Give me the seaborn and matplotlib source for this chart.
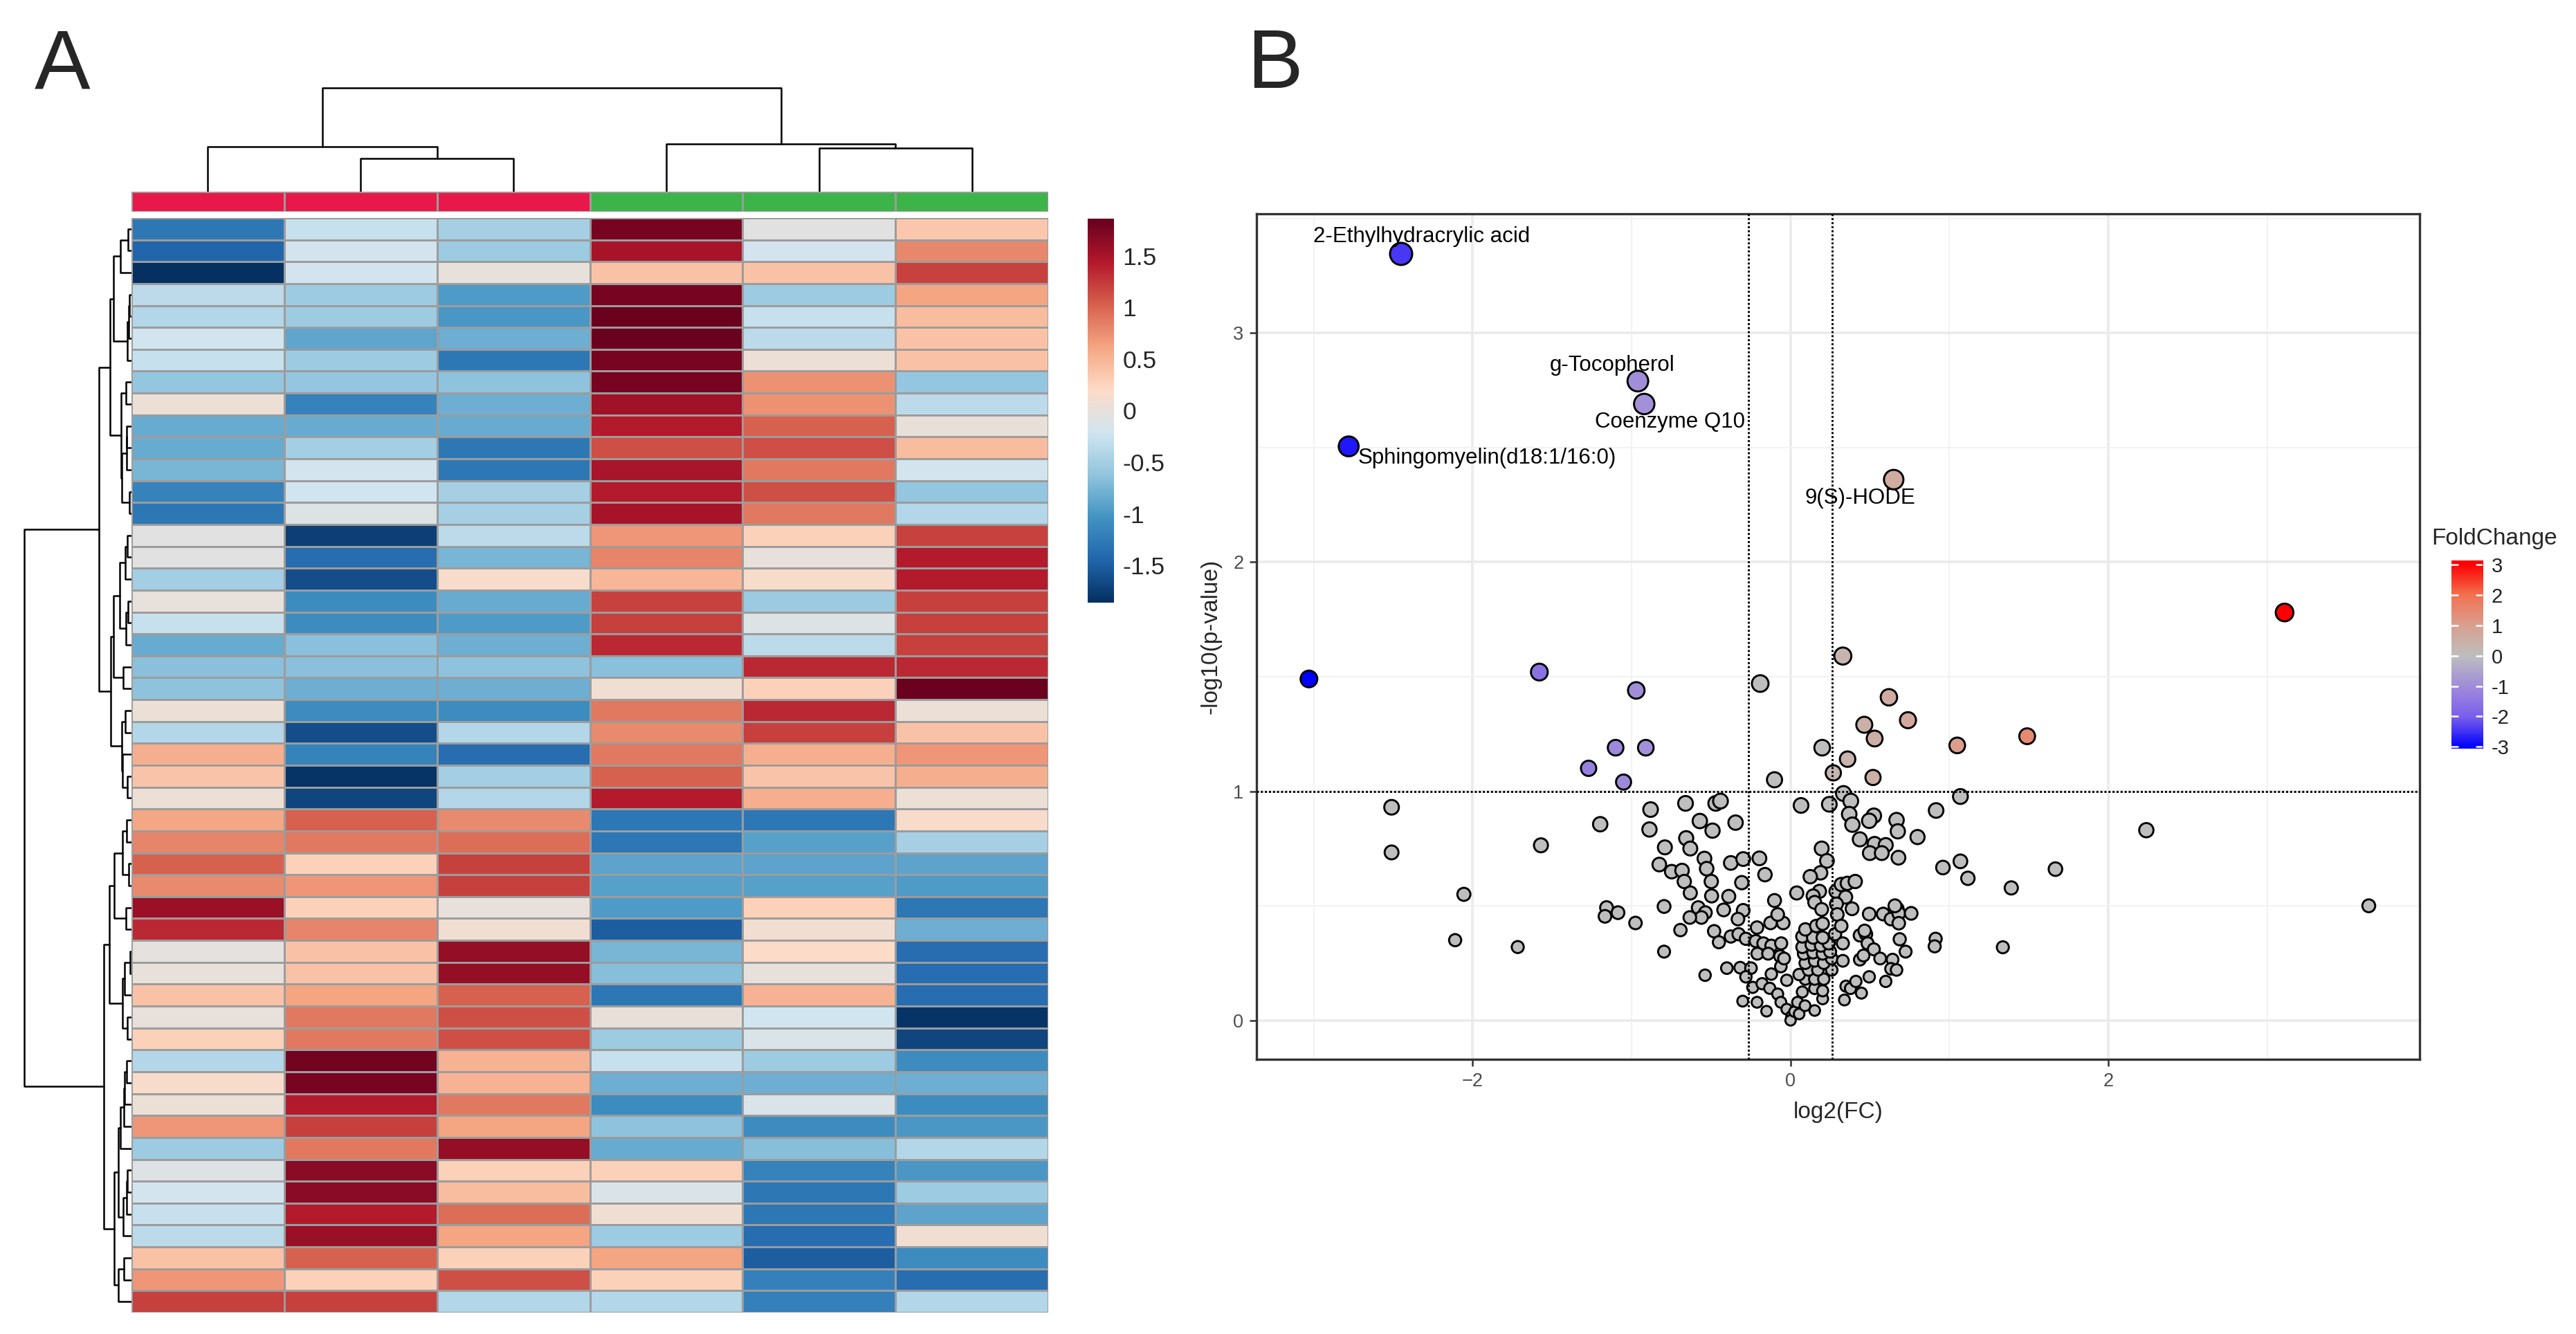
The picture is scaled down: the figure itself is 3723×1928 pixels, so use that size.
import numpy as np
import pandas as pd
import matplotlib
matplotlib.use("Agg")
import matplotlib.pyplot as plt
import seaborn as sns
from matplotlib.colors import LinearSegmentedColormap, ListedColormap, Normalize

# =================== Heatmap data (z-scores, 50 metabolites x 6 samples) ===================
samples = ["S1", "S2", "S3", "S4", "S5", "S6"]
groups = [0, 0, 0, 1, 1, 1]
group_colors = ["#E8194A", "#3CB44A"]

z_scores = [
    [-1.28, -0.27, -0.49, 1.76, -0.05, 0.35],
    [-1.45, -0.18, -0.55, 1.50, -0.18, 0.79],
    [-1.85, -0.18, 0.00, 0.40, 0.40, 1.20],
    [-0.34, -0.55, -0.96, 1.76, -0.55, 0.62],
    [-0.40, -0.55, -1.00, 1.84, -0.27, 0.45],
    [-0.21, -0.88, -0.80, 1.84, -0.34, 0.40],
    [-0.27, -0.55, -1.28, 1.76, 0.05, 0.40],
    [-0.61, -0.61, -0.63, 1.76, 0.73, -0.61],
    [0.05, -1.19, -0.80, 1.55, 0.73, -0.34],
    [-0.84, -0.84, -0.84, 1.43, 1.03, 0.02],
    [-0.84, -0.50, -1.28, 1.13, 1.13, 0.44],
    [-0.75, -0.18, -1.28, 1.49, 0.88, -0.18],
    [-1.19, -0.21, -0.48, 1.43, 1.13, -0.61],
    [-1.28, -0.10, -0.48, 1.50, 0.88, -0.40],
    [-0.05, -1.73, -0.34, 0.71, 0.29, 1.20],
    [-0.05, -1.38, -0.75, 0.81, 0.00, 1.43],
    [-0.50, -1.63, 0.15, 0.48, 0.15, 1.43],
    [0.00, -1.10, -0.83, 1.20, -0.56, 1.22],
    [-0.27, -1.10, -0.96, 1.22, -0.10, 1.22],
    [-0.83, -0.66, -0.80, 1.35, -0.34, 1.22],
    [-0.66, -0.66, -0.63, -0.66, 1.35, 1.35],
    [-0.63, -0.80, -0.80, 0.10, 0.29, 1.84],
    [0.05, -1.10, -1.10, 0.88, 1.35, 0.05],
    [-0.40, -1.63, -0.40, 0.78, 1.22, 0.40],
    [0.54, -1.19, -1.38, 0.88, 0.54, 0.70],
    [0.38, -1.82, -0.50, 1.03, 0.38, 0.54],
    [0.05, -1.70, -0.40, 1.43, 0.54, 0.05],
    [0.60, 1.03, 0.78, -1.28, -1.28, 0.15],
    [0.81, 0.88, 0.95, -1.28, -0.93, -0.48],
    [1.03, 0.29, 1.22, -0.89, -0.89, -0.89],
    [0.78, 0.70, 1.22, -0.93, -0.93, -0.96],
    [1.58, 0.29, 0.00, -0.96, 0.29, -1.28],
    [1.35, 0.81, 0.10, -1.50, 0.10, -0.80],
    [-0.02, 0.40, 1.60, -0.75, 0.20, -1.38],
    [0.00, 0.40, 1.60, -0.68, 0.00, -1.38],
    [0.40, 0.62, 1.03, -1.28, 0.52, -1.38],
    [0.00, 0.88, 1.13, 0.02, -0.21, -1.82],
    [0.29, 0.88, 1.13, -0.55, -0.13, -1.70],
    [-0.40, 1.79, 0.52, -0.27, -0.55, -1.10],
    [0.15, 1.76, 0.52, -0.80, -0.80, -0.80],
    [0.05, 1.43, 0.88, -1.10, -0.13, -1.10],
    [0.71, 1.22, 0.62, -0.63, -1.10, -1.00],
    [-0.55, 0.88, 1.60, -0.84, -0.68, -0.40],
    [-0.10, 1.67, 0.29, 0.29, -1.19, -1.00],
    [-0.18, 1.67, 0.45, -0.13, -1.28, -0.55],
    [-0.27, 1.43, 0.95, 0.10, -1.28, -0.89],
    [-0.34, 1.58, 0.62, -0.55, -1.38, 0.10],
    [0.40, 1.03, 0.29, 0.62, -1.50, -1.10],
    [0.71, 0.29, 1.13, 0.29, -1.20, -1.38],
    [1.22, 1.22, -0.40, -0.40, -1.20, -0.40],
]
cbar_ticks = [1.5, 1, 0.5, 0, -0.5, -1, -1.5]
cbar_labels = ["1.5", "1", "0.5", "0", "-0.5", "-1", "-1.5"]

# =================== Volcano data ===================
log2fc = [
    -2.45, -0.96, -0.92, -2.78, 0.65,
    3.11, -3.03, -1.58, -0.97, -0.19, 0.33, 0.62, 0.74, 0.465, 0.53,
    1.05, 1.49, 0.20, 0.36, 0.27, 0.52, -0.10, -1.27, -1.10, -0.91,
    -1.05, 0.334, 1.07,
    -0.66, -0.47, -0.44, -0.88, -1.197, -0.887, -0.57, -0.49, -0.345, 0.067,
    0.245, 0.38, 0.37, 0.39, 0.525, 0.496, 0.668, 0.676, 0.917, 0.80,
    0.437, 0.53, 0.60, 0.50, 0.575, 0.68, 0.96, 1.07, 1.117, 1.39,
    0.197, 0.23, 0.19, 0.125, -0.79, -0.656, -0.63, -0.825, -0.747, -0.682,
    -0.541, -0.527, -0.375, -0.297, -0.195, -0.16, -0.306, -0.498, -0.668, -0.63,
    -0.496, -0.388, 0.04, -0.10, 0.183, 0.143, 0.153, 0.197, 0.287, 0.32,
    0.358, 0.408, 0.348, 0.29, 0.388, 0.295, -1.157, -1.167, -1.085, -0.975,
    -0.795, -0.692, -0.795, -0.58, -0.535, -0.56, -0.633, -0.42, -0.297, -0.33,
    -0.48, -0.45, -0.375, -0.326, -0.28, -0.21, -0.125, -0.045, -0.08, -0.218,
    -0.17, -0.12, -0.058, -0.208, -0.14, -0.065, -0.06, -0.04, -0.316, -0.40,
    -0.248, -0.28, -0.537, -0.12, -0.023, -0.237, -0.178, -0.13, -0.08, -0.30,
    -0.21, -0.15, -0.06, -0.023, 0.007, 0.001, 0.026, 0.055, 0.045, 0.092,
    0.153, 0.203, 0.153, 0.203, 0.075, 0.094, 0.153, 0.21, 0.055, 0.114,
    0.173, 0.26, 0.094, 0.153, 0.21, 0.26, 0.084, 0.143, 0.203, 0.25,
    0.075, 0.133, 0.192, 0.241, 0.075, 0.143, 0.203, 0.094, 0.163, 0.203,
    0.281, 0.32, 0.33, 0.33, 0.35, 0.378, 0.34, 0.412, 0.447, 0.496,
    0.60, 0.437, 0.476, 0.467, 0.486, 0.525, 0.437, 0.46, 0.565, 0.643,
    0.633, 0.668, 0.725, 0.688, 0.496, 0.584, 0.633, 0.672, 0.682, 0.682,
    0.76, 0.658, 0.914, 0.908, 1.337,
    -2.51, -2.51, -2.055, -2.11, -1.716, -1.57,
    2.24, 1.668, 3.64,
]
neglog10p = [
    3.345, 2.79, 2.69, 2.505, 2.36,
    1.78, 1.49, 1.52, 1.44, 1.47, 1.59, 1.41, 1.31, 1.29, 1.23,
    1.20, 1.24, 1.19, 1.14, 1.08, 1.06, 1.05, 1.10, 1.19, 1.19,
    1.04, 0.99, 0.977,
    0.947, 0.947, 0.957, 0.92, 0.856, 0.833, 0.87, 0.828, 0.863, 0.938,
    0.943, 0.957, 0.90, 0.854, 0.893, 0.871, 0.874, 0.825, 0.916, 0.80,
    0.79, 0.77, 0.765, 0.73, 0.73, 0.71, 0.667, 0.694, 0.62, 0.578,
    0.75, 0.696, 0.644, 0.627, 0.755, 0.795, 0.75, 0.68, 0.649, 0.654,
    0.706, 0.662, 0.687, 0.704, 0.707, 0.636, 0.601, 0.606, 0.606, 0.556,
    0.543, 0.541, 0.556, 0.523, 0.563, 0.543, 0.515, 0.484, 0.563, 0.593,
    0.598, 0.606, 0.538, 0.508, 0.487, 0.462, 0.492, 0.454, 0.47, 0.425,
    0.497, 0.394, 0.30, 0.492, 0.47, 0.449, 0.449, 0.482, 0.48, 0.442,
    0.389, 0.341, 0.366, 0.376, 0.356, 0.405, 0.425, 0.425, 0.462, 0.346,
    0.336, 0.326, 0.336, 0.291, 0.291, 0.28, 0.235, 0.27, 0.23, 0.228,
    0.228, 0.19, 0.197, 0.202, 0.175, 0.144, 0.16, 0.14, 0.115, 0.084,
    0.079, 0.04, 0.079, 0.049, 0.018, 0.0, 0.038, 0.028, 0.079, 0.064,
    0.043, 0.094, 0.139, 0.129, 0.124, 0.18, 0.18, 0.18, 0.2, 0.22,
    0.22, 0.22, 0.25, 0.26, 0.25, 0.27, 0.291, 0.296, 0.291, 0.30,
    0.32, 0.33, 0.326, 0.336, 0.366, 0.361, 0.361, 0.397, 0.412, 0.422,
    0.376, 0.412, 0.336, 0.26, 0.149, 0.139, 0.089, 0.17, 0.119, 0.19,
    0.17, 0.371, 0.376, 0.391, 0.336, 0.31, 0.265, 0.283, 0.27, 0.265,
    0.225, 0.22, 0.30, 0.354, 0.464, 0.464, 0.442, 0.487, 0.467, 0.424,
    0.467, 0.50, 0.356, 0.323, 0.319,
    0.93, 0.733, 0.55, 0.35, 0.32, 0.764,
    0.83, 0.66, 0.50,
]
label_names = ["2-Ethylhydracrylic acid", "g-Tocopherol", "Coenzyme Q10",
               "Sphingomyelin(d18:1/16:0)", "9(S)-HODE"]
label_x = [-2.32, -1.12, -0.76, -1.91, 0.44]
label_y = [3.42, 2.86, 2.61, 2.455, 2.28]
fc_cutoff = np.log2(1.2)
p_cutoff = 1.0


# =================== Dendrogram (Ward, keeps the displayed order) ===================
def ward_links(X):
    grupos = [(np.array([i]), i + 0.5, 0.0) for i in range(len(X))]
    links = []
    while len(grupos) > 1:
        best = None
        for j in range(len(grupos) - 1):
            a, b = grupos[j], grupos[j + 1]
            na, nb = len(a[0]), len(b[0])
            d = np.sqrt(2 * na * nb / (na + nb)) * np.linalg.norm(X[a[0]].mean(0) - X[b[0]].mean(0))
            if best is None or d < best[0]:
                best = (d, j)
        d, j = best
        a, b = grupos[j], grupos[j + 1]
        h = max(d, a[2], b[2])
        links.append((a[1], a[2], b[1], b[2], h))
        grupos[j:j + 2] = [(np.concatenate([a[0], b[0]]), (a[1] + b[1]) / 2, h)]
    return links


sns.set_theme(style="white")
plt.rcParams["font.family"] = ["Liberation Sans", "DejaVu Sans"]

W, H = 3723, 1928
fig = plt.figure(figsize=(W / 300, H / 300), dpi=300)


def px_axes(x0, y0, x1, y1):
    return fig.add_axes([x0 / W, 1 - y1 / H, (x1 - x0) / W, (y1 - y0) / H])


# =================== Panel A: heatmap ===================
mat = np.array(z_scores)
df = pd.DataFrame(mat, columns=samples)
rdbu = ["#053061", "#2166AC", "#4393C3", "#92C5DE", "#D1E5F0",
        "#FDDBC7", "#F4A582", "#D6604D", "#B2182B", "#67001F"]
heat_cmap = LinearSegmentedColormap.from_list("rdbu10", rdbu)

ax_hm = px_axes(190, 315, 1515, 1897)
ax_cb = px_axes(1572, 316, 1610, 871)
sns.heatmap(df, ax=ax_hm, cmap=heat_cmap, vmin=-1.86, vmax=1.86,
            linewidths=0.6, linecolor="#9c9c9c", cbar_ax=ax_cb,
            xticklabels=False, yticklabels=False, cbar_kws={"ticks": cbar_ticks})
cb = ax_hm.collections[0].colorbar
cb.outline.set_visible(False)
ax_cb.set_yticklabels(cbar_labels)
ax_cb.tick_params(length=0, labelsize=8.5, pad=3)

# annotation bar
ax_an = px_axes(190, 277, 1515, 306)
sns.heatmap(pd.DataFrame([groups], columns=samples), ax=ax_an, cmap=ListedColormap(group_colors),
            vmin=0, vmax=1, cbar=False, linewidths=0.6, linecolor="#9c9c9c",
            xticklabels=False, yticklabels=False)

# column dendrogram
ax_cd = px_axes(190, 123, 1515, 277)
col_links = ward_links(mat.T)
for xa, ha, xb, hb, h in col_links:
    ax_cd.plot([xa, xa, xb, xb], [ha, h, h, hb], color="black", lw=0.6)
ax_cd.set_xlim(0, len(samples))
ax_cd.set_ylim(0, col_links[-1][4] * 1.03)
ax_cd.axis("off")

# row dendrogram
ax_rd = px_axes(33, 315, 190, 1897)
row_links = ward_links(mat)
for ya, ha, yb, hb, h in row_links:
    ax_rd.plot([ha, h, h, hb], [ya, ya, yb, yb], color="black", lw=0.6)
ax_rd.set_ylim(len(mat), 0)
ax_rd.set_xlim(row_links[-1][4] * 1.01, 0)
ax_rd.axis("off")

# =================== Panel B: volcano ===================
volc = pd.DataFrame({"log2FC": log2fc, "p": neglog10p})
sig = (volc["p"] > p_cutoff) & (volc["log2FC"].abs() > fc_cutoff)
fc_cmap = LinearSegmentedColormap.from_list(
    "fc", ["#0000FF", "#7A5EEC", "#A08CDA", "#BEBEBE", "#D9A090", "#F2704F", "#FF0000"])

ax_v = px_axes(1816, 309, 3497, 1531)
size_kw = dict(size="p", sizes=(13, 60), size_norm=(0, 3.4), edgecolor="black",
               linewidth=0.7, legend=False, zorder=2)
sns.scatterplot(data=volc[~sig], x="log2FC", y="p", color="#BEBEBE", ax=ax_v, **size_kw)
sns.scatterplot(data=volc[sig], x="log2FC", y="p", hue="log2FC", palette=fc_cmap,
                hue_norm=(-3.05, 3.05), ax=ax_v, **size_kw)

for v in (-fc_cutoff, fc_cutoff):
    ax_v.axvline(v, color="black", lw=0.7, ls=(0, (1, 1)), zorder=3)
ax_v.axhline(p_cutoff, color="black", lw=0.7, ls=(0, (1, 1)), zorder=3)

for name, tx, ty in zip(label_names, label_x, label_y):
    ax_v.text(tx, ty, name, ha="center", va="center", fontsize=7.5, color="black", zorder=4)

ax_v.set_xlim(-3.36, 3.96)
ax_v.set_ylim(-0.17, 3.52)
ax_v.set_xticks([-2, 0, 2])
ax_v.set_yticks([0, 1, 2, 3])
ax_v.set_xticks([-3, -1, 1, 3], minor=True)
ax_v.set_yticks([0.5, 1.5, 2.5, 3.5], minor=True)
ax_v.grid(True, which="major", color="#EBEBEB", lw=0.9, zorder=0)
ax_v.grid(True, which="minor", color="#F2F2F2", lw=0.45, zorder=0)
ax_v.set_axisbelow(True)
for s in ax_v.spines.values():
    s.set_color("#333333")
    s.set_linewidth(0.8)
ax_v.tick_params(which="major", length=2.5, width=0.6, color="#333333",
                 labelsize=6.5, labelcolor="#4D4D4D", pad=2, bottom=True, left=True)
ax_v.tick_params(which="minor", length=0)
ax_v.set_xlabel("log2(FC)", fontsize=8, labelpad=4)
ax_v.set_ylabel("-log10(p-value)", fontsize=8, labelpad=4)

# FoldChange legend
ax_leg = px_axes(3543, 810, 3588, 1082)
grad = np.linspace(-3.06, 3.14, 256).reshape(-1, 1)
ax_leg.imshow(grad, aspect="auto", cmap=fc_cmap, norm=Normalize(-3.05, 3.05),
              origin="lower", extent=(0, 1, -3.06, 3.14))
ax_leg.set_xlim(0, 1)
ax_leg.set_ylim(-3.06, 3.14)
ax_leg.set_xticks([])
ax_leg.yaxis.tick_right()
ax_leg.set_yticks([-3, -2, -1, 0, 1, 2, 3])
ax_leg.set_yticklabels(["-3", "-2", "-1", "0", "1", "2", "3"])
ax_leg.tick_params(axis="y", length=0, labelsize=7, labelcolor="#222222", pad=3)
for t in [-3, -2, -1, 0, 1, 2, 3]:
    ax_leg.plot([0, 0.2], [t, t], color="white", lw=0.6)
    ax_leg.plot([0.8, 1], [t, t], color="white", lw=0.6)
for s in ax_leg.spines.values():
    s.set_visible(False)
fig.text(3514 / W, 1 - 779 / H, "FoldChange", fontsize=8, ha="left", va="center")

# panel letters
fig.text(50 / W, 1 - 40 / H, "A", fontsize=29, ha="left", va="top")
fig.text(1802 / W, 1 - 40 / H, "B", fontsize=29, ha="left", va="top")

fig.savefig("out.png", dpi=300)
plt.close(fig)
